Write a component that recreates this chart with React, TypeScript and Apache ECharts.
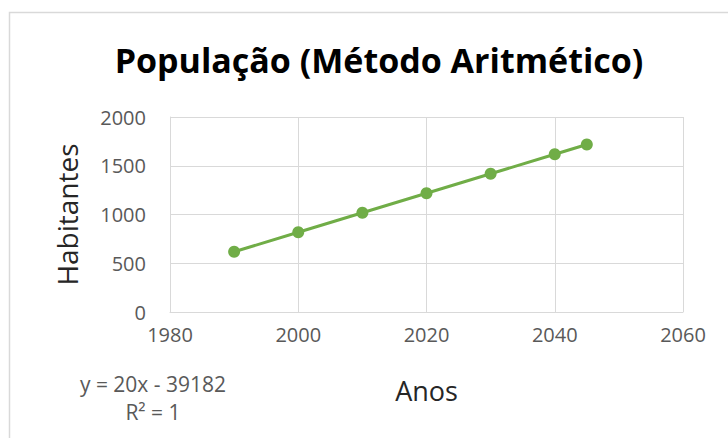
import React, { useEffect, useRef } from "react";
import * as echarts from "echarts";

const years = [1990, 2000, 2010, 2020, 2030, 2040, 2045];
const population = [618, 818, 1018, 1218, 1418, 1618, 1718];
const titleText = "População (Método Aritmético)";
const xAxisName = "Anos";
const yAxisName = "Habitantes";
const trendLines = ["y = 20x - 39182", "R² = 1"];

export default function App() {
  const ref = useRef<HTMLDivElement>(null);
  useEffect(() => {
    if (!ref.current) return;
    const chart = echarts.init(ref.current, null, { renderer: "svg" });
    const font = "'Open Sans', 'Noto Sans', sans-serif";
    chart.setOption({
      animation: false,
      backgroundColor: "#ffffff",
      title: {
        text: titleText,
        left: 374,
        top: 38,
        textAlign: "center",
        textStyle: { fontFamily: font, fontSize: 34, fontWeight: "bold", color: "#000000" },
      },
      grid: { left: 170, top: 117, right: 45, bottom: 126, containLabel: false },
      xAxis: {
        type: "value",
        min: 1980,
        max: 2060,
        interval: 20,
        axisLine: { show: true, lineStyle: { color: "#d9d9d9", width: 1 } },
        axisTick: { show: false },
        splitLine: { show: true, lineStyle: { color: "#d9d9d9", width: 1 } },
        axisLabel: {
          color: "#595959",
          fontFamily: font,
          fontSize: 20,
          margin: 12,
          formatter: (v: number) => String(v),
        },
        name: xAxisName,
        nameLocation: "middle",
        nameGap: 65,
        nameTextStyle: { color: "#262626", fontFamily: font, fontSize: 27 },
      },
      yAxis: {
        type: "value",
        min: 0,
        max: 2000,
        interval: 500,
        axisLine: { show: true, lineStyle: { color: "#d9d9d9", width: 1 } },
        axisTick: { show: false },
        splitLine: { show: true, lineStyle: { color: "#d9d9d9", width: 1 } },
        axisLabel: {
          color: "#595959",
          fontFamily: font,
          fontSize: 20,
          margin: 24,
          formatter: (v: number) => String(v),
        },
        name: yAxisName,
        nameLocation: "middle",
        nameGap: 89,
        nameRotate: 90,
        nameTextStyle: { color: "#262626", fontFamily: font, fontSize: 28 },
      },
      series: [
        {
          type: "line",
          data: years.map((y, i) => [y, population[i]]),
          symbol: "circle",
          symbolSize: 12,
          lineStyle: { color: "#70ad47", width: 3 },
          itemStyle: { color: "#70ad47" },
        },
      ],
      graphic: [
        {
          type: "rect",
          shape: { x: 9.5, y: 12.5, width: 760, height: 460 },
          style: { fill: "none", stroke: "#d9d9d9", lineWidth: 1.5 },
          silent: true,
        },
        {
          type: "text",
          x: 153,
          y: 384,
          style: {
            text: trendLines[0],
            fill: "#595959",
            font: `21px ${font}`,
            textAlign: "center",
            textVerticalAlign: "middle",
          },
        },
        {
          type: "text",
          x: 153,
          y: 412,
          style: {
            text: trendLines[1],
            fill: "#595959",
            font: `21px ${font}`,
            textAlign: "center",
            textVerticalAlign: "middle",
          },
        },
      ],
    });
    return () => chart.dispose();
  }, []);
  return (
    <div
      ref={ref}
      style={{ position: "fixed", left: 0, top: 0, width: 728, height: 438 }}
    />
  );
}
